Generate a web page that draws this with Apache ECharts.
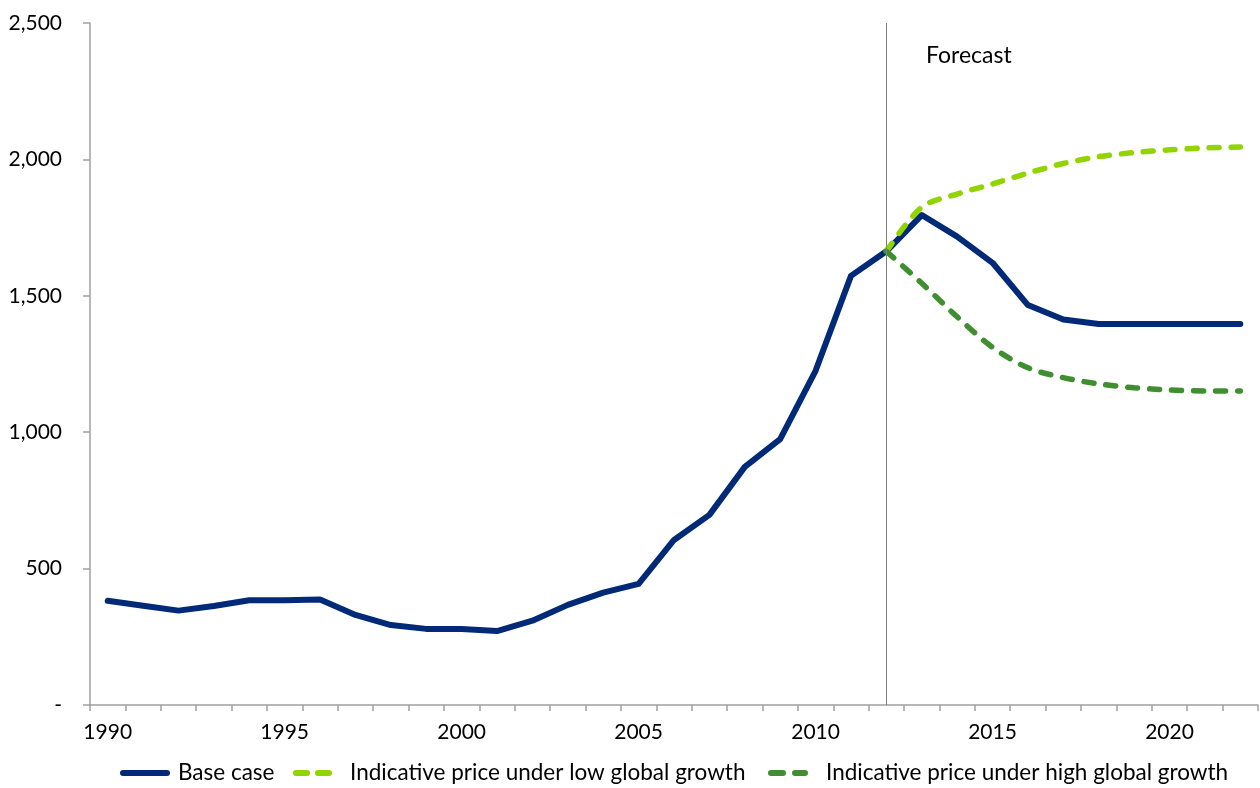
<!DOCTYPE html>
<html>
<head>
<meta charset="utf-8">
<script src="https://cdn.jsdelivr.net/npm/echarts@6/dist/echarts.min.js"></script>
<style>
  html, body { margin: 0; padding: 0; background: #fff; }
  #chart { width: 1260px; height: 788px; }
</style>
</head>
<body>
<div id="chart"></div>
<script>
// Years on the category axis
const years = [];
for (let y = 1990; y <= 2022; y++) years.push(String(y));

// Base case price, 1990-2022
const baseCase = [382, 364, 346, 363, 384, 384, 387, 330, 293, 279, 279, 271,
  309, 367, 412, 444, 605, 697, 873, 975, 1225, 1573, 1663, 1796, 1717, 1621,
  1466, 1413, 1397, 1397, 1397, 1397, 1397];

// Forecast scenarios, 2012-2022
const lowGrowthForecast = [1663, 1825, 1873, 1910, 1950, 1985, 2010, 2025, 2035, 2042, 2045];
const highGrowthForecast = [1663, 1546, 1423, 1311, 1236, 1200, 1177, 1163, 1155, 1151, 1151];

const seriesNames = ['Base case', 'Indicative price under low global growth', 'Indicative price under high global growth'];
const forecastStart = '2012';
const yTicks = { min: 0, max: 2500, interval: 500 };

// Pad forecast series so they start at the forecast year
const startIdx = years.indexOf(forecastStart);
const pad = arr => years.map((_, i) => (i < startIdx ? null : arr[i - startIdx]));

const FONT = 'Lato';
const TXT = { fontFamily: FONT, fontSize: 21, color: '#000' };
const AXIS_GREY = '#a0a0a0';
const COLORS = ['#002a78', '#92d400', '#3f8f31'];

// Legend keys: a solid bar for the base case, two short dashes for the scenarios
const LEGEND_Y = 773;
const legendKeys = [
  { segs: [[123, 167]], textX: 178 },
  { segs: [[296, 307], [318, 329]], textX: 350 },
  { segs: [[771, 783], [795, 805]], textX: 826 }
];
const legendGraphics = [];
legendKeys.forEach((k, i) => {
  k.segs.forEach(s => legendGraphics.push({
    type: 'line',
    shape: { x1: s[0], y1: LEGEND_Y, x2: s[1], y2: LEGEND_Y },
    style: { stroke: COLORS[i], lineWidth: 6, lineCap: 'round' }
  }));
  legendGraphics.push({
    type: 'text',
    x: k.textX,
    y: LEGEND_Y,
    style: { text: seriesNames[i], fontFamily: FONT, fontSize: 22.5, fill: '#000', verticalAlign: 'middle' }
  });
});

const chart = echarts.init(document.getElementById('chart'), null, { renderer: 'canvas' });

chart.setOption({
  animation: false,
  backgroundColor: '#fff',
  grid: { left: 90, right: 2, top: 23, bottom: 83, containLabel: false },
  xAxis: {
    type: 'category',
    data: years,
    boundaryGap: true,
    axisLine: { lineStyle: { color: AXIS_GREY, width: 1.5 } },
    axisTick: { show: true, interval: 0, length: 6, lineStyle: { color: AXIS_GREY, width: 1.5 } },
    axisLabel: Object.assign({ interval: 4, margin: 17 }, TXT),
    splitLine: { show: false }
  },
  yAxis: {
    type: 'value',
    min: yTicks.min,
    max: yTicks.max,
    interval: yTicks.interval,
    axisLine: { show: true, lineStyle: { color: AXIS_GREY, width: 1.5 } },
    axisTick: { show: true, length: 7, lineStyle: { color: AXIS_GREY, width: 1.5 } },
    axisLabel: Object.assign({
      margin: 28,
      formatter: v => (v === 0 ? '-' : v.toLocaleString('en-US'))
    }, TXT),
    splitLine: { show: false }
  },
  series: [
    {
      name: seriesNames[0],
      type: 'line',
      data: baseCase,
      symbol: 'none',
      lineStyle: { color: COLORS[0], width: 6, cap: 'round', join: 'round' },
      itemStyle: { color: COLORS[0] },
      z: 3,
      markLine: {
        silent: true,
        symbol: 'none',
        label: { show: false },
        lineStyle: { color: '#808080', width: 1, type: 'solid' },
        data: [{ xAxis: forecastStart }]
      }
    },
    {
      name: seriesNames[1],
      type: 'line',
      data: pad(lowGrowthForecast),
      symbol: 'none',
      smooth: 0.3,
      lineStyle: { color: COLORS[1], width: 5.5, type: [10, 12], cap: 'round' },
      itemStyle: { color: COLORS[1] },
      z: 4
    },
    {
      name: seriesNames[2],
      type: 'line',
      data: pad(highGrowthForecast),
      symbol: 'none',
      smooth: 0.3,
      lineStyle: { color: COLORS[2], width: 5.5, type: [10, 12], cap: 'round' },
      itemStyle: { color: COLORS[2] },
      z: 4
    }
  ],
  graphic: [
    {
      type: 'text',
      x: 926,
      y: 56,
      style: { text: 'Forecast', fontFamily: FONT, fontSize: 23, fill: '#000', verticalAlign: 'middle' }
    }
  ].concat(legendGraphics)
});
</script>
</body>
</html>
